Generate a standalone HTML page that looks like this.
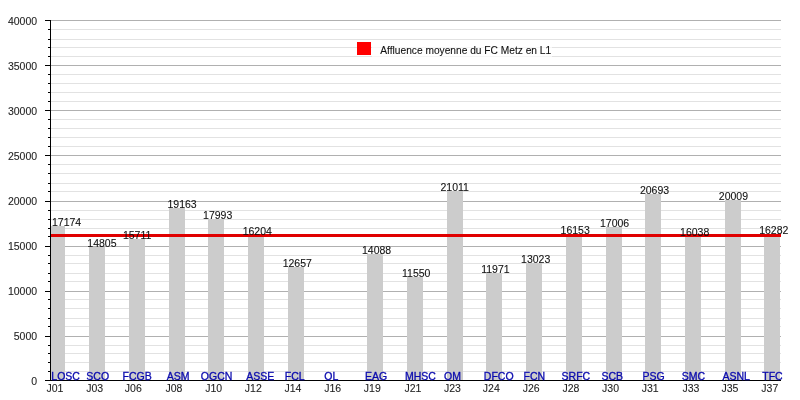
<!DOCTYPE html>
<html><head><meta charset="utf-8"><style>
html,body{margin:0;padding:0;background:#fff;width:800px;height:400px;overflow:hidden;position:relative}
</style></head><body>
<svg width="800" height="400" viewBox="0 0 800 400" style="position:absolute;left:0;top:0;will-change:transform">
<rect x="51" y="20" width="730" height="1" fill="#b0b0b0"/>
<rect x="51" y="29" width="730" height="1" fill="#e2e2e2"/>
<rect x="51" y="39" width="730" height="1" fill="#e2e2e2"/>
<rect x="51" y="47" width="730" height="1" fill="#e2e2e2"/>
<rect x="51" y="56" width="730" height="1" fill="#e2e2e2"/>
<rect x="51" y="65" width="730" height="1" fill="#b0b0b0"/>
<rect x="51" y="74" width="730" height="1" fill="#e2e2e2"/>
<rect x="51" y="83" width="730" height="1" fill="#e2e2e2"/>
<rect x="51" y="92" width="730" height="1" fill="#e2e2e2"/>
<rect x="51" y="101" width="730" height="1" fill="#e2e2e2"/>
<rect x="51" y="110" width="730" height="1" fill="#b0b0b0"/>
<rect x="51" y="119" width="730" height="1" fill="#e2e2e2"/>
<rect x="51" y="128" width="730" height="1" fill="#e2e2e2"/>
<rect x="51" y="137" width="730" height="1" fill="#e2e2e2"/>
<rect x="51" y="146" width="730" height="1" fill="#e2e2e2"/>
<rect x="51" y="155" width="730" height="1" fill="#b0b0b0"/>
<rect x="51" y="164" width="730" height="1" fill="#e2e2e2"/>
<rect x="51" y="173" width="730" height="1" fill="#e2e2e2"/>
<rect x="51" y="183" width="730" height="1" fill="#e2e2e2"/>
<rect x="51" y="191" width="730" height="1" fill="#e2e2e2"/>
<rect x="51" y="201" width="730" height="1" fill="#b0b0b0"/>
<rect x="51" y="210" width="730" height="1" fill="#e2e2e2"/>
<rect x="51" y="219" width="730" height="1" fill="#e2e2e2"/>
<rect x="51" y="228" width="730" height="1" fill="#e2e2e2"/>
<rect x="51" y="236" width="730" height="1" fill="#e2e2e2"/>
<rect x="51" y="246" width="730" height="1" fill="#b0b0b0"/>
<rect x="51" y="255" width="730" height="1" fill="#e2e2e2"/>
<rect x="51" y="263" width="730" height="1" fill="#e2e2e2"/>
<rect x="51" y="273" width="730" height="1" fill="#e2e2e2"/>
<rect x="51" y="281" width="730" height="1" fill="#e2e2e2"/>
<rect x="51" y="291" width="730" height="1" fill="#b0b0b0"/>
<rect x="51" y="299" width="730" height="1" fill="#e2e2e2"/>
<rect x="51" y="308" width="730" height="1" fill="#e2e2e2"/>
<rect x="51" y="318" width="730" height="1" fill="#e2e2e2"/>
<rect x="51" y="326" width="730" height="1" fill="#e2e2e2"/>
<rect x="51" y="336" width="730" height="1" fill="#b0b0b0"/>
<rect x="51" y="345" width="730" height="1" fill="#e2e2e2"/>
<rect x="51" y="353" width="730" height="1" fill="#e2e2e2"/>
<rect x="51" y="362" width="730" height="1" fill="#e2e2e2"/>
<rect x="51" y="371" width="730" height="1" fill="#e2e2e2"/>
<rect x="50" y="226" width="15" height="154" fill="#cccccc"/>
<rect x="89" y="247" width="16" height="133" fill="#cccccc"/>
<rect x="129" y="239" width="16" height="141" fill="#cccccc"/>
<rect x="169" y="208" width="16" height="172" fill="#cccccc"/>
<rect x="208" y="219" width="16" height="161" fill="#cccccc"/>
<rect x="248" y="235" width="16" height="145" fill="#cccccc"/>
<rect x="288" y="267" width="16" height="113" fill="#cccccc"/>
<rect x="367" y="254" width="16" height="126" fill="#cccccc"/>
<rect x="407" y="277" width="16" height="103" fill="#cccccc"/>
<rect x="447" y="191" width="16" height="189" fill="#cccccc"/>
<rect x="486" y="273" width="16" height="107" fill="#cccccc"/>
<rect x="526" y="263" width="16" height="117" fill="#cccccc"/>
<rect x="566" y="235" width="16" height="145" fill="#cccccc"/>
<rect x="606" y="227" width="16" height="153" fill="#cccccc"/>
<rect x="645" y="194" width="16" height="186" fill="#cccccc"/>
<rect x="685" y="236" width="16" height="144" fill="#cccccc"/>
<rect x="725" y="200" width="16" height="180" fill="#cccccc"/>
<rect x="764" y="234" width="16" height="146" fill="#cccccc"/>
<rect x="51" y="234" width="730" height="3" fill="#e00000"/>
<rect x="50" y="20" width="1" height="361" fill="#000"/>
<rect x="45" y="380" width="736" height="1" fill="#000"/>
<rect x="45" y="20" width="5" height="1" fill="#000"/>
<rect x="48" y="29" width="2" height="1" fill="#000"/>
<rect x="48" y="39" width="2" height="1" fill="#000"/>
<rect x="48" y="47" width="2" height="1" fill="#000"/>
<rect x="48" y="56" width="2" height="1" fill="#000"/>
<rect x="45" y="65" width="5" height="1" fill="#000"/>
<rect x="48" y="74" width="2" height="1" fill="#000"/>
<rect x="48" y="83" width="2" height="1" fill="#000"/>
<rect x="48" y="92" width="2" height="1" fill="#000"/>
<rect x="48" y="101" width="2" height="1" fill="#000"/>
<rect x="45" y="110" width="5" height="1" fill="#000"/>
<rect x="48" y="119" width="2" height="1" fill="#000"/>
<rect x="48" y="128" width="2" height="1" fill="#000"/>
<rect x="48" y="137" width="2" height="1" fill="#000"/>
<rect x="48" y="146" width="2" height="1" fill="#000"/>
<rect x="45" y="155" width="5" height="1" fill="#000"/>
<rect x="48" y="164" width="2" height="1" fill="#000"/>
<rect x="48" y="173" width="2" height="1" fill="#000"/>
<rect x="48" y="183" width="2" height="1" fill="#000"/>
<rect x="48" y="191" width="2" height="1" fill="#000"/>
<rect x="45" y="201" width="5" height="1" fill="#000"/>
<rect x="48" y="210" width="2" height="1" fill="#000"/>
<rect x="48" y="219" width="2" height="1" fill="#000"/>
<rect x="48" y="228" width="2" height="1" fill="#000"/>
<rect x="48" y="236" width="2" height="1" fill="#000"/>
<rect x="45" y="246" width="5" height="1" fill="#000"/>
<rect x="48" y="255" width="2" height="1" fill="#000"/>
<rect x="48" y="263" width="2" height="1" fill="#000"/>
<rect x="48" y="273" width="2" height="1" fill="#000"/>
<rect x="48" y="281" width="2" height="1" fill="#000"/>
<rect x="45" y="291" width="5" height="1" fill="#000"/>
<rect x="48" y="299" width="2" height="1" fill="#000"/>
<rect x="48" y="308" width="2" height="1" fill="#000"/>
<rect x="48" y="318" width="2" height="1" fill="#000"/>
<rect x="48" y="326" width="2" height="1" fill="#000"/>
<rect x="45" y="336" width="5" height="1" fill="#000"/>
<rect x="48" y="345" width="2" height="1" fill="#000"/>
<rect x="48" y="353" width="2" height="1" fill="#000"/>
<rect x="48" y="362" width="2" height="1" fill="#000"/>
<rect x="48" y="371" width="2" height="1" fill="#000"/>
<rect x="45" y="380" width="5" height="1" fill="#000"/>
<rect x="357" y="42" width="14" height="13" fill="#ff0000"/>
<g font-family='"Liberation Sans", sans-serif' font-size="10.5">
<rect x="372" y="42" width="180" height="16" fill="#fff" fill-opacity="0.7"/>
<g font-size="10.2"><text x="380.30" y="54.00" fill="#111111" stroke="#111111" stroke-width="0.1" text-anchor="start">Affluence moyenne du FC Metz en L1</text></g>
<text x="37.10" y="25.00" fill="#1e1e1e" stroke="#1e1e1e" stroke-width="0.1" text-anchor="end">40000</text>
<text x="37.10" y="70.00" fill="#1e1e1e" stroke="#1e1e1e" stroke-width="0.1" text-anchor="end">35000</text>
<text x="37.10" y="115.00" fill="#1e1e1e" stroke="#1e1e1e" stroke-width="0.1" text-anchor="end">30000</text>
<text x="37.10" y="160.00" fill="#1e1e1e" stroke="#1e1e1e" stroke-width="0.1" text-anchor="end">25000</text>
<text x="37.10" y="205.00" fill="#1e1e1e" stroke="#1e1e1e" stroke-width="0.1" text-anchor="end">20000</text>
<text x="37.10" y="250.00" fill="#1e1e1e" stroke="#1e1e1e" stroke-width="0.1" text-anchor="end">15000</text>
<text x="37.10" y="295.00" fill="#1e1e1e" stroke="#1e1e1e" stroke-width="0.1" text-anchor="end">10000</text>
<text x="37.10" y="340.00" fill="#1e1e1e" stroke="#1e1e1e" stroke-width="0.1" text-anchor="end">5000</text>
<text x="37.10" y="385.00" fill="#1e1e1e" stroke="#1e1e1e" stroke-width="0.1" text-anchor="end">0</text>
<text x="46.50" y="392.00" fill="#1e1e1e" stroke="#1e1e1e" stroke-width="0.1" text-anchor="start">J01</text>
<text x="51.30" y="379.50" fill="#0a0aae" stroke="#0a0aae" stroke-width="0.3" text-anchor="start">LOSC</text>
<text x="52.00" y="225.73" fill="#111111" stroke="#111111" stroke-width="0.1" text-anchor="start">17174</text>
<text x="86.17" y="392.00" fill="#1e1e1e" stroke="#1e1e1e" stroke-width="0.1" text-anchor="start">J03</text>
<text x="86.30" y="379.50" fill="#0a0aae" stroke="#0a0aae" stroke-width="0.3" text-anchor="start">SCO</text>
<text x="87.30" y="246.76" fill="#111111" stroke="#111111" stroke-width="0.1" text-anchor="start">14805</text>
<text x="124.84" y="392.00" fill="#1e1e1e" stroke="#1e1e1e" stroke-width="0.1" text-anchor="start">J06</text>
<text x="122.50" y="379.50" fill="#0a0aae" stroke="#0a0aae" stroke-width="0.3" text-anchor="start">FCGB</text>
<text x="122.90" y="238.60" fill="#111111" stroke="#111111" stroke-width="0.1" text-anchor="start">15711</text>
<text x="165.51" y="392.00" fill="#1e1e1e" stroke="#1e1e1e" stroke-width="0.1" text-anchor="start">J08</text>
<text x="166.80" y="379.50" fill="#0a0aae" stroke="#0a0aae" stroke-width="0.3" text-anchor="start">ASM</text>
<text x="167.50" y="208.03" fill="#111111" stroke="#111111" stroke-width="0.1" text-anchor="start">19163</text>
<text x="205.18" y="392.00" fill="#1e1e1e" stroke="#1e1e1e" stroke-width="0.1" text-anchor="start">J10</text>
<text x="200.80" y="379.50" fill="#0a0aae" stroke="#0a0aae" stroke-width="0.3" text-anchor="start">OGCN</text>
<text x="203.10" y="219.06" fill="#111111" stroke="#111111" stroke-width="0.1" text-anchor="start">17993</text>
<text x="244.85" y="392.00" fill="#1e1e1e" stroke="#1e1e1e" stroke-width="0.1" text-anchor="start">J12</text>
<text x="246.30" y="379.50" fill="#0a0aae" stroke="#0a0aae" stroke-width="0.3" text-anchor="start">ASSE</text>
<text x="242.65" y="234.66" fill="#111111" stroke="#111111" stroke-width="0.1" text-anchor="start">16204</text>
<text x="284.52" y="392.00" fill="#1e1e1e" stroke="#1e1e1e" stroke-width="0.1" text-anchor="start">J14</text>
<text x="284.80" y="379.50" fill="#0a0aae" stroke="#0a0aae" stroke-width="0.3" text-anchor="start">FCL</text>
<text x="282.70" y="267.09" fill="#111111" stroke="#111111" stroke-width="0.1" text-anchor="start">12657</text>
<text x="324.19" y="392.00" fill="#1e1e1e" stroke="#1e1e1e" stroke-width="0.1" text-anchor="start">J16</text>
<text x="324.30" y="379.50" fill="#0a0aae" stroke="#0a0aae" stroke-width="0.3" text-anchor="start">OL</text>
<text x="363.86" y="392.00" fill="#1e1e1e" stroke="#1e1e1e" stroke-width="0.1" text-anchor="start">J19</text>
<text x="365.10" y="379.50" fill="#0a0aae" stroke="#0a0aae" stroke-width="0.3" text-anchor="start">EAG</text>
<text x="362.00" y="253.51" fill="#111111" stroke="#111111" stroke-width="0.1" text-anchor="start">14088</text>
<text x="404.53" y="392.00" fill="#1e1e1e" stroke="#1e1e1e" stroke-width="0.1" text-anchor="start">J21</text>
<text x="404.90" y="379.50" fill="#0a0aae" stroke="#0a0aae" stroke-width="0.3" text-anchor="start">MHSC</text>
<text x="402.00" y="277.05" fill="#111111" stroke="#111111" stroke-width="0.1" text-anchor="start">11550</text>
<text x="444.00" y="392.00" fill="#1e1e1e" stroke="#1e1e1e" stroke-width="0.1" text-anchor="start">J23</text>
<text x="444.00" y="379.50" fill="#0a0aae" stroke="#0a0aae" stroke-width="0.3" text-anchor="start">OM</text>
<text x="440.50" y="191.40" fill="#111111" stroke="#111111" stroke-width="0.1" text-anchor="start">21011</text>
<text x="482.87" y="392.00" fill="#1e1e1e" stroke="#1e1e1e" stroke-width="0.1" text-anchor="start">J24</text>
<text x="483.80" y="379.50" fill="#0a0aae" stroke="#0a0aae" stroke-width="0.3" text-anchor="start">DFCO</text>
<text x="481.20" y="273.16" fill="#111111" stroke="#111111" stroke-width="0.1" text-anchor="start">11971</text>
<text x="522.74" y="392.00" fill="#1e1e1e" stroke="#1e1e1e" stroke-width="0.1" text-anchor="start">J26</text>
<text x="523.55" y="379.50" fill="#0a0aae" stroke="#0a0aae" stroke-width="0.3" text-anchor="start">FCN</text>
<text x="521.10" y="263.29" fill="#111111" stroke="#111111" stroke-width="0.1" text-anchor="start">13023</text>
<text x="562.41" y="392.00" fill="#1e1e1e" stroke="#1e1e1e" stroke-width="0.1" text-anchor="start">J28</text>
<text x="561.60" y="379.50" fill="#0a0aae" stroke="#0a0aae" stroke-width="0.3" text-anchor="start">SRFC</text>
<text x="560.60" y="234.12" fill="#111111" stroke="#111111" stroke-width="0.1" text-anchor="start">16153</text>
<text x="602.08" y="392.00" fill="#1e1e1e" stroke="#1e1e1e" stroke-width="0.1" text-anchor="start">J30</text>
<text x="601.50" y="379.50" fill="#0a0aae" stroke="#0a0aae" stroke-width="0.3" text-anchor="start">SCB</text>
<text x="600.00" y="227.45" fill="#111111" stroke="#111111" stroke-width="0.1" text-anchor="start">17006</text>
<text x="641.75" y="392.00" fill="#1e1e1e" stroke="#1e1e1e" stroke-width="0.1" text-anchor="start">J31</text>
<text x="642.40" y="379.50" fill="#0a0aae" stroke="#0a0aae" stroke-width="0.3" text-anchor="start">PSG</text>
<text x="639.95" y="194.06" fill="#111111" stroke="#111111" stroke-width="0.1" text-anchor="start">20693</text>
<text x="682.42" y="392.00" fill="#1e1e1e" stroke="#1e1e1e" stroke-width="0.1" text-anchor="start">J33</text>
<text x="681.80" y="379.50" fill="#0a0aae" stroke="#0a0aae" stroke-width="0.3" text-anchor="start">SMC</text>
<text x="680.05" y="235.96" fill="#111111" stroke="#111111" stroke-width="0.1" text-anchor="start">16038</text>
<text x="721.39" y="392.00" fill="#1e1e1e" stroke="#1e1e1e" stroke-width="0.1" text-anchor="start">J35</text>
<text x="722.40" y="379.50" fill="#0a0aae" stroke="#0a0aae" stroke-width="0.3" text-anchor="start">ASNL</text>
<text x="718.80" y="200.02" fill="#111111" stroke="#111111" stroke-width="0.1" text-anchor="start">20009</text>
<text x="761.36" y="392.00" fill="#1e1e1e" stroke="#1e1e1e" stroke-width="0.1" text-anchor="start">J37</text>
<text x="762.30" y="379.50" fill="#0a0aae" stroke="#0a0aae" stroke-width="0.3" text-anchor="start">TFC</text>
<text x="759.20" y="233.96" fill="#111111" stroke="#111111" stroke-width="0.1" text-anchor="start">16282</text>
</g></svg>
</body></html>
